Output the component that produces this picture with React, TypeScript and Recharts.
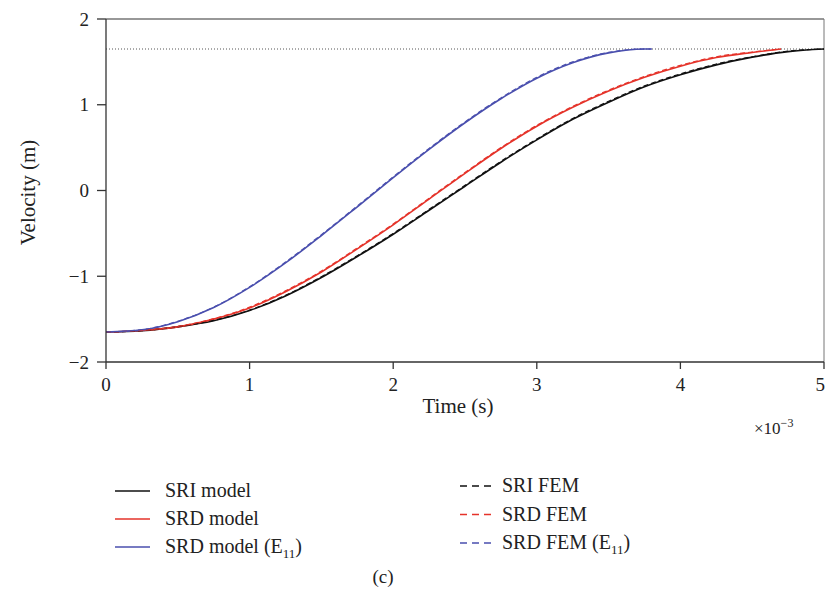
import React from 'react';
import { LineChart, Line, XAxis, YAxis, ReferenceLine } from 'recharts';

// time in units of 1e-3 s
const sriTime = [0, 0.25, 0.5, 0.75, 1, 1.25, 1.5, 1.75, 2, 2.25, 2.5, 2.75, 3, 3.25, 3.5, 3.75, 4, 4.25, 4.5, 4.75, 5];
const sriModel = [-1.65, -1.635, -1.59, -1.52, -1.4, -1.23, -1.015, -0.77, -0.51, -0.23, 0.05, 0.33, 0.59, 0.83, 1.03, 1.21, 1.35, 1.465, 1.555, 1.62, 1.65];
const sriFem = [-1.65, -1.635, -1.588, -1.515, -1.395, -1.222, -1.005, -0.76, -0.5, -0.22, 0.06, 0.34, 0.6, 0.84, 1.04, 1.22, 1.36, 1.475, 1.56, 1.625, 1.65];

const srdTime = [0, 0.25, 0.5, 0.75, 1, 1.25, 1.5, 1.75, 2, 2.25, 2.5, 2.75, 3, 3.25, 3.5, 3.75, 4, 4.25, 4.5, 4.7];
const srdModel = [-1.65, -1.632, -1.59, -1.5, -1.37, -1.18, -0.95, -0.68, -0.4, -0.1, 0.2, 0.49, 0.75, 0.97, 1.16, 1.32, 1.45, 1.55, 1.61, 1.65];
const srdFem = [-1.65, -1.632, -1.585, -1.495, -1.36, -1.17, -0.94, -0.67, -0.39, -0.09, 0.21, 0.5, 0.76, 0.98, 1.17, 1.33, 1.46, 1.56, 1.615, 1.65];

const e11Time = [0, 0.25, 0.5, 0.75, 1, 1.25, 1.5, 1.75, 2, 2.25, 2.5, 2.75, 3, 3.25, 3.5, 3.75, 3.8];
const e11Model = [-1.65, -1.625, -1.53, -1.365, -1.13, -0.845, -0.525, -0.19, 0.15, 0.48, 0.79, 1.07, 1.31, 1.49, 1.605, 1.65, 1.65];
const e11Fem = [-1.65, -1.623, -1.525, -1.36, -1.122, -0.835, -0.515, -0.18, 0.16, 0.49, 0.8, 1.08, 1.32, 1.5, 1.61, 1.65, 1.65];

const xTicks = [0, 1, 2, 3, 4, 5];
const yTicks = [-2, -1, 0, 1, 2];
const plateau = 1.65;

const toPoints = (ts: number[], vs: number[]) => ts.map((t, i) => ({ t, v: vs[i] }));

const BLACK = '#111111';
const RED = '#e5332a';
const BLUE = '#4a4fae';
const AXIS = '#333333';
const FONT = '"Liberation Serif", "DejaVu Serif", serif';

const fmt = (v: number) => (v < 0 ? '\u2212' + Math.abs(v) : String(v));

const XLabel = (props: any) => {
  const vb = props.viewBox || { x: 106, y: 362, width: 718 };
  const cx = vb.x + vb.width / 2 - 7;
  return (
    <g>
      <text x={cx} y={vb.y + 51} textAnchor="middle" fontFamily={FONT} fontSize={21} fill="#222">
        Time (s)
      </text>
      <text x={vb.x + vb.width - 70} y={vb.y + 72} fontFamily={FONT} fontSize={17} fill="#222">
        ×10
        <tspan dy={-7} fontSize={12}>
          {'\u2212'}3
        </tspan>
      </text>
    </g>
  );
};

const YLabel = (props: any) => {
  const vb = props.viewBox || { x: 0, y: 19, height: 343 };
  const cy = vb.y + vb.height / 2 + 2;
  return (
    <text transform={`translate(35, ${cy}) rotate(-90)`} textAnchor="middle" fontFamily={FONT} fontSize={21} fill="#222">
      Velocity (m)
    </text>
  );
};

const legendLeft = [
  { name: 'SRI model', color: BLACK, sub: '' },
  { name: 'SRD model', color: RED, sub: '' },
  { name: 'SRD model (E', color: BLUE, sub: '11' },
];
const legendRight = [
  { name: 'SRI FEM', color: BLACK, sub: '' },
  { name: 'SRD FEM', color: RED, sub: '' },
  { name: 'SRD FEM (E', color: BLUE, sub: '11' },
];

const LegendOverlay = () => (
  <svg width={825} height={597} style={{ position: 'absolute', left: 0, top: 0, pointerEvents: 'none' }}>
    {legendLeft.map((it, i) => {
      const y = 491 + i * 28;
      return (
        <g key={it.name}>
          <line x1={115} x2={150} y1={y} y2={y} stroke={it.color} strokeWidth={1.5} />
          <text x={165} y={y + 6} fontFamily={FONT} fontSize={20} fill="#222">
            {it.name}
            {it.sub ? (
              <>
                <tspan dy={5} fontSize={13}>{it.sub}</tspan>
                <tspan dy={-5}>)</tspan>
              </>
            ) : null}
          </text>
        </g>
      );
    })}
    {legendRight.map((it, i) => {
      const y = 486 + i * 28.5;
      return (
        <g key={it.name}>
          <line x1={460} x2={494} y1={y} y2={y} stroke={it.color} strokeWidth={1.3} strokeDasharray="7 5" />
          <text x={502} y={y + 6} fontFamily={FONT} fontSize={20} fill="#222">
            {it.name}
            {it.sub ? (
              <>
                <tspan dy={5} fontSize={13}>{it.sub}</tspan>
                <tspan dy={-5}>)</tspan>
              </>
            ) : null}
          </text>
        </g>
      );
    })}
    <text x={383} y={583} textAnchor="middle" fontFamily={FONT} fontSize={19} fill="#222">
      (c)
    </text>
  </svg>
);

export default function App() {
  return (
    <div style={{ position: 'absolute', left: 0, top: 0, width: 825, height: 597, background: '#fff' }}>
      <LineChart width={825} height={597} margin={{ top: 19, right: 1, left: 0, bottom: 0 }}>
        <XAxis
          type="number"
          dataKey="t"
          domain={[0, 5]}
          ticks={xTicks}
          allowDataOverflow
          height={235}
          tickSize={7}
          tickMargin={9}
          stroke={AXIS}
          strokeWidth={1.3}
          tick={{ fill: '#222', fontFamily: FONT, fontSize: 19 }}
          label={<XLabel />}
        />
        <YAxis
          type="number"
          domain={[-2, 2]}
          ticks={yTicks}
          allowDataOverflow
          width={106}
          tickSize={9}
          tickMargin={8}
          stroke={AXIS}
          strokeWidth={1.3}
          tickFormatter={fmt}
          tick={{ fill: '#222', fontFamily: FONT, fontSize: 19 }}
          label={<YLabel />}
        />
        <ReferenceLine y={2} stroke={AXIS} strokeWidth={1.2} ifOverflow="visible" />
        <ReferenceLine x={5} stroke="#777" strokeWidth={1} ifOverflow="visible" />
        <ReferenceLine y={plateau} stroke="#555" strokeWidth={1} strokeDasharray="1 2" />
        <Line data={toPoints(sriTime, sriModel)} dataKey="v" type="monotone" stroke={BLACK} strokeWidth={1.6} dot={false} isAnimationActive={false} />
        <Line data={toPoints(srdTime, srdModel)} dataKey="v" type="monotone" stroke={RED} strokeWidth={1.6} dot={false} isAnimationActive={false} />
        <Line data={toPoints(e11Time, e11Model)} dataKey="v" type="monotone" stroke={BLUE} strokeWidth={1.6} dot={false} isAnimationActive={false} />
        <Line data={toPoints(sriTime, sriFem)} dataKey="v" type="monotone" stroke={BLACK} strokeWidth={1.2} strokeDasharray="5 3" dot={false} isAnimationActive={false} />
        <Line data={toPoints(srdTime, srdFem)} dataKey="v" type="monotone" stroke={RED} strokeWidth={1.2} strokeDasharray="5 3" dot={false} isAnimationActive={false} />
        <Line data={toPoints(e11Time, e11Fem)} dataKey="v" type="monotone" stroke={BLUE} strokeWidth={1.2} strokeDasharray="5 3" dot={false} isAnimationActive={false} />
      </LineChart>
      <LegendOverlay />
    </div>
  );
}
